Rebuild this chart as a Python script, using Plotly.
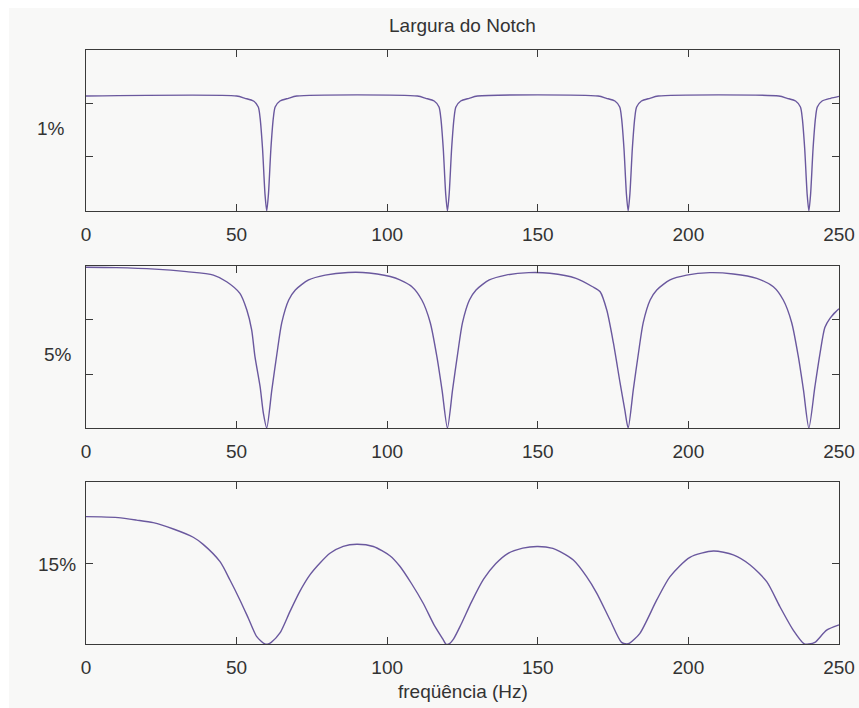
import plotly.graph_objects as go
from plotly.subplots import make_subplots

# ---------------- data (magnitude; axis-relative units 0..1) ----
f1 = [0, 50, 52.8, 55.6, 57.2, 57.8, 58.6, 59.45, 60, 60.55, 61.4, 62.2, 62.8, 64.4, 67.2, 70,
      110, 112.8, 115.6, 117.2, 117.8, 118.6, 119.45, 120, 120.55, 121.4, 122.2, 122.8, 124.4, 127.2, 130,
      170, 172.8, 175.6, 177.2, 177.8, 178.6, 179.45, 180, 180.55, 181.4, 182.2, 182.8, 184.4, 187.2, 190,
      230, 232.8, 235.6, 237.2, 237.8, 238.6, 239.45, 240, 240.55, 241.4, 242.2, 242.8, 244.4, 247.2, 250]
m1 = [0.714, 0.714, 0.700, 0.683, 0.646, 0.578, 0.391, 0.099, 0.0, 0.099, 0.391, 0.578, 0.646, 0.683, 0.700, 0.714,
      0.714, 0.700, 0.683, 0.646, 0.578, 0.391, 0.099, 0.0, 0.099, 0.391, 0.578, 0.646, 0.683, 0.700, 0.714,
      0.714, 0.700, 0.683, 0.646, 0.578, 0.391, 0.099, 0.0, 0.099, 0.391, 0.578, 0.646, 0.683, 0.700, 0.714,
      0.714, 0.700, 0.683, 0.646, 0.578, 0.391, 0.099, 0.0, 0.099, 0.391, 0.578, 0.646, 0.683, 0.700, 0.712]

f2 = [0, 10, 22.9, 33.4, 42.3, 46.7, 51.1, 53.4, 55.0, 56.1, 57.8, 58.9, 60,
      61.7, 63.4, 65.0, 67.3, 69.5, 73.9, 79.4, 87, 94, 102.7, 108.2, 111.5, 114.3, 116.5, 118.2, 120,
      121.7, 123.4, 125.0, 127.3, 129.5, 133.9, 139.4, 147, 154, 162.7, 168.2, 170.7, 172.9, 175.1, 177.3, 178.9, 180,
      181.7, 183.4, 185.0, 187.3, 189.5, 193.9, 199.4, 207.1, 214.9, 222.7, 228.2, 231.5, 234.3, 236.5, 238.2, 240,
      242.0, 243.7, 245.3, 247.0, 249.8, 250]
m2 = [0.992, 0.990, 0.981, 0.965, 0.944, 0.903, 0.831, 0.728, 0.605, 0.440, 0.255, 0.090, 0.0,
      0.235, 0.460, 0.650, 0.790, 0.852, 0.914, 0.944, 0.960, 0.957, 0.926, 0.872, 0.790, 0.650, 0.440, 0.235, 0.0,
      0.235, 0.460, 0.650, 0.790, 0.852, 0.914, 0.944, 0.959, 0.955, 0.924, 0.872, 0.841, 0.728, 0.525, 0.280, 0.110, 0.0,
      0.235, 0.460, 0.650, 0.790, 0.852, 0.914, 0.944, 0.959, 0.951, 0.924, 0.872, 0.790, 0.650, 0.440, 0.235, 0.0,
      0.255, 0.460, 0.620, 0.677, 0.733, 0.735]

f3 = [0, 5, 10.7, 16.8, 22.3, 29.0, 35.6, 38.9, 44.5, 47.8, 51.1, 53.9, 56.7, 59.4, 60.5,
      61.5, 64.4, 67.7, 71.0, 74.4, 77.7, 81.0, 85.4, 89.9, 95.4, 100.9, 104.2, 108, 112, 115.5, 118.5, 119.5, 120.5,
      122, 124.5, 128, 132, 136, 140, 145, 150, 155, 157.4, 161.8, 166.2, 169.6, 174.0, 177.8, 179.5, 180.5,
      183.9, 189.5, 193.9, 200.5, 208.3, 214.9, 220.5, 226.0, 230.4, 234.8, 238.5, 240, 242, 245.9, 249.8, 250]
m3 = [0.786, 0.785, 0.780, 0.765, 0.749, 0.710, 0.659, 0.615, 0.508, 0.395, 0.272, 0.159, 0.045, 0.0, 0.0,
      0.010, 0.068, 0.200, 0.325, 0.428, 0.500, 0.560, 0.603, 0.616, 0.602, 0.545, 0.480, 0.375, 0.250, 0.120, 0.030, 0.0, 0.0,
      0.030, 0.120, 0.260, 0.400, 0.495, 0.558, 0.592, 0.602, 0.590, 0.570, 0.518, 0.416, 0.313, 0.148, 0.010, 0.0, 0.005,
      0.066, 0.272, 0.416, 0.535, 0.574, 0.550, 0.488, 0.385, 0.230, 0.086, 0.0, 0.0, 0.010, 0.086, 0.117, 0.118]

x_ticks = [0, 50, 100, 150, 200, 250]
y_ticks = [[0.34, 0.665], [0.333, 0.667], [0.494]]
row_labels = ["1%", "5%", "15%"]
title_text = "Largura do Notch"
xlabel_text = "freqüência (Hz)"

# ---------------- layout in pixels ----------------
W, H = 859, 708
ML, MR, MT, MB = 86, 20, 50, 64
PW, PH = W - ML - MR, H - MT - MB


def px_x(p):
    return (p - ML) / PW


def px_y(p):
    return (H - MB - p) / PH


domains = [(px_y(211), 1.0), (px_y(428), px_y(266)), (0.0, px_y(482))]

fig = make_subplots(rows=3, cols=1)
line_color = "#6a589e"
ax_color = "#3a3a3a"
font = dict(family="Liberation Sans, Arial, sans-serif", size=19, color="#333333")

for i, (f, m) in enumerate([(f1, m1), (f2, m2), (f3, m3)]):
    fig.add_trace(go.Scatter(x=f, y=m, mode="lines",
                             line=dict(color=line_color, width=1.4, shape="spline", smoothing=0.7),
                             showlegend=False, hoverinfo="skip", cliponaxis=True), row=i + 1, col=1)

for i in range(3):
    xa = "xaxis" if i == 0 else f"xaxis{i+1}"
    ya = "yaxis" if i == 0 else f"yaxis{i+1}"
    fig.layout[xa].update(range=[0, 250], tickvals=x_ticks, ticks="inside", ticklen=7,
                          tickcolor=ax_color, showline=True, linecolor=ax_color, linewidth=1,
                          mirror="ticks", showgrid=False, zeroline=False, tickfont=font,
                          ticklabelstandoff=6, automargin=False)
    fig.layout[ya].update(domain=list(domains[i]), range=[0, 1], tickvals=y_ticks[i],
                          showticklabels=False, ticks="inside", ticklen=7, tickcolor=ax_color,
                          showline=True, linecolor=ax_color, linewidth=1, mirror="ticks",
                          showgrid=False, zeroline=False, automargin=False)

annotations = []
label_pos = [(51, 128.5), (57.5, 354.5), (57, 564)]
for lab, (lx, ly) in zip(row_labels, label_pos):
    annotations.append(dict(text=lab, xref="paper", yref="paper", x=px_x(lx), y=px_y(ly),
                            xanchor="center", yanchor="middle", showarrow=False, font=font))
annotations.append(dict(text=title_text, xref="paper", yref="paper", x=px_x(462.5), y=px_y(26),
                        xanchor="center", yanchor="middle", showarrow=False, font=font))
annotations.append(dict(text=xlabel_text, xref="paper", yref="paper", x=px_x(462.5), y=px_y(691),
                        xanchor="center", yanchor="middle", showarrow=False, font=font))

shapes = [dict(type="rect", xref="paper", yref="paper", layer="below",
               x0=px_x(9), x1=px_x(W + 5), y0=px_y(H + 5), y1=px_y(8),
               fillcolor="#f8f8f7", line=dict(width=0))]

fig.update_layout(width=W, height=H, margin=dict(l=ML, r=MR, t=MT, b=MB, autoexpand=False),
                  paper_bgcolor="#ffffff", plot_bgcolor="#f8f8f7",
                  annotations=annotations, shapes=shapes, font=font)

fig.write_html("out.html")
